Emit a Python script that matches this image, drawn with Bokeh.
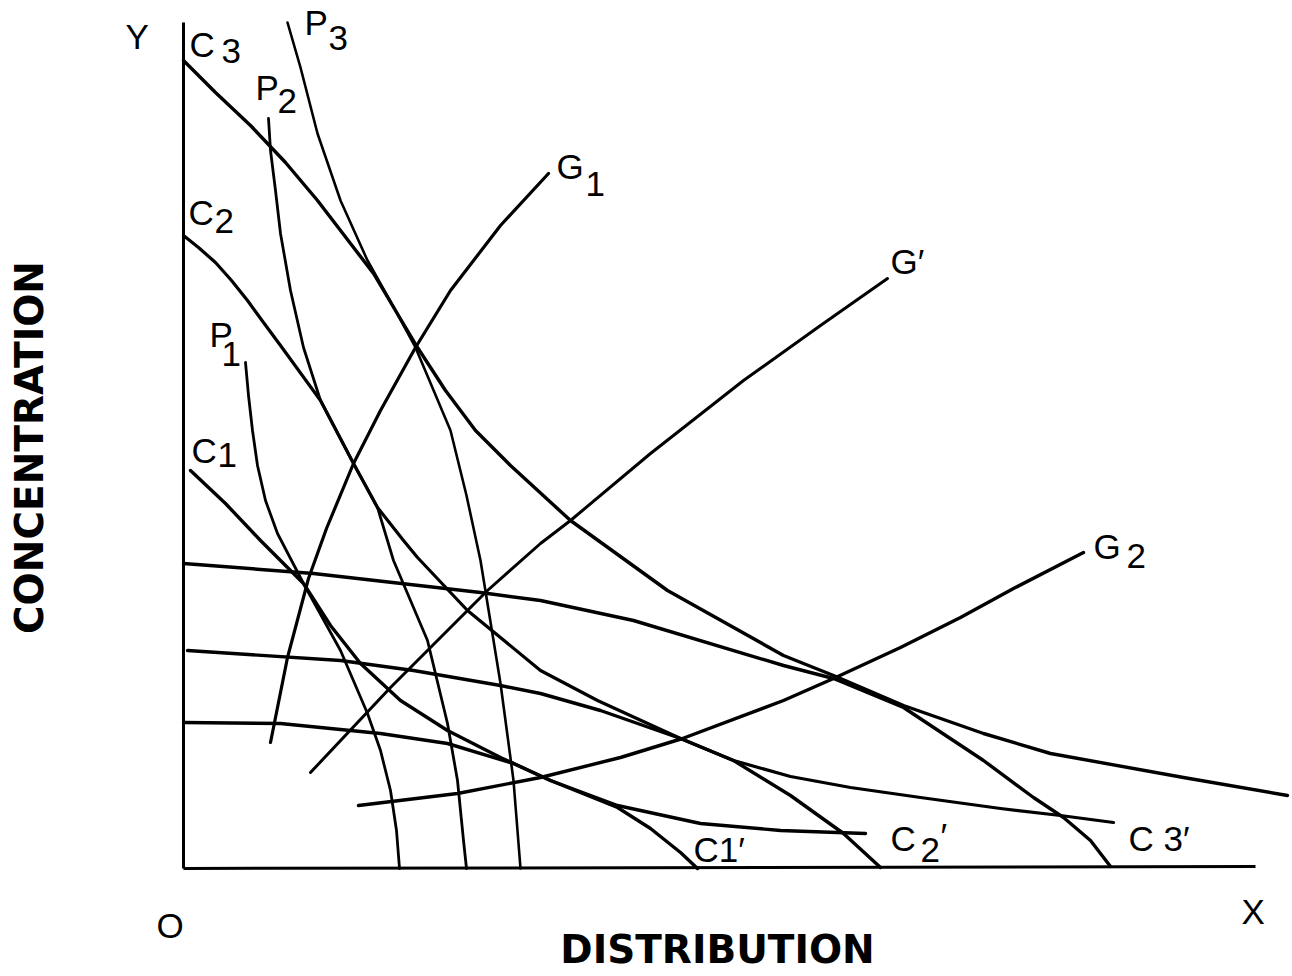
import math
from bokeh.plotting import figure
from bokeh.models import Range1d
from bokeh.core.properties import value
from bokeh.embed import file_html
from bokeh.resources import INLINE

# ---- curves (schematic units: distribution on x, concentration on y) ----
c3_x = [0.0, 3.2, 6.7, 10.2, 13.4, 16.7, 19.0, 21.2, 23.4, 26.2, 29.2, 32.7, 38.7, 48.4, 60.0, 65.0, 72.0, 80.0, 86.7, 100.0, 110.4]
c3_y = [80.8, 77.6, 74.3, 70.6, 66.8, 62.5, 59.5, 55.8, 52.1, 47.8, 43.8, 40.3, 34.8, 27.8, 21.3, 19.3, 16.3, 13.5, 11.5, 9.1, 7.3]

c2_x = [0.0, 1.5, 3.2, 4.8, 6.4, 8.0, 9.7, 13.7, 17.0, 19.4, 22.0, 23.4, 28.4, 35.7, 41.4, 49.7, 55.0, 60.7, 66.7, 73.7, 81.7, 87.7, 93.0]
c2_y = [63.3, 62.1, 60.6, 58.8, 56.8, 54.6, 52.3, 46.8, 40.5, 36.1, 32.8, 31.1, 25.8, 19.8, 16.8, 13.0, 10.8, 9.2, 8.1, 7.1, 6.0, 5.3, 4.6]

c1_x = [0.7, 4.2, 7.7, 12.0, 14.7, 17.7, 21.7, 26.4, 31.7, 36.7, 43.4, 51.7, 59.7, 68.2]
c1_y = [39.8, 36.5, 32.8, 28.5, 24.3, 20.5, 16.8, 13.8, 11.1, 8.8, 6.3, 4.5, 3.8, 3.5]

c3p_x = [0.0, 13.0, 29.7, 35.7, 45.0, 60.0, 65.0, 72.0, 80.0, 85.0, 88.0, 90.7, 92.7]
c3p_y = [30.5, 29.5, 27.6, 26.8, 24.8, 20.3, 19.0, 16.1, 10.8, 7.1, 5.1, 2.8, 0.2]

c2p_x = [0.4, 15.7, 23.0, 31.7, 35.7, 41.7, 49.7, 55.0, 60.7, 66.0, 69.7]
c2p_y = [21.8, 20.8, 19.8, 18.3, 17.5, 15.8, 13.0, 10.8, 7.3, 3.5, 0.1]

c1p_x = [0.0, 9.7, 19.7, 26.4, 33.0, 36.7, 43.4, 46.7, 49.7, 51.4]
c1p_y = [14.6, 14.5, 13.5, 12.5, 10.5, 8.8, 6.1, 4.0, 1.6, 0.0]

p1_x = [6.2, 6.5, 6.9, 7.4, 8.2, 9.4, 12.0, 15.7, 18.4, 19.7, 20.7, 21.3, 21.6]
p1_y = [50.6, 47.3, 43.8, 40.3, 36.8, 33.5, 28.5, 21.8, 15.5, 11.8, 7.8, 3.8, 0.0]

p2_x = [8.5, 8.7, 9.2, 9.7, 10.7, 12.0, 13.7, 17.0, 19.4, 21.0, 24.4, 26.4, 27.4, 28.0, 28.3]
p2_y = [75.0, 71.8, 67.8, 63.5, 57.8, 52.1, 46.8, 40.5, 36.1, 30.8, 22.8, 14.5, 8.8, 2.8, 0.0]

p3_x = [10.4, 11.7, 13.4, 15.7, 18.4, 21.2, 23.2, 26.7, 28.3, 29.7, 31.7, 33.0, 33.7]
p3_y = [84.6, 80.1, 73.5, 66.8, 60.8, 55.8, 52.1, 43.8, 37.3, 30.8, 18.5, 8.8, 0.0]

g1_x = [8.7, 10.4, 12.5, 14.3, 17.0, 19.7, 23.2, 26.7, 31.7, 36.5]
g1_y = [12.6, 21.1, 29.0, 34.0, 40.5, 45.8, 52.1, 57.8, 64.3, 69.5]

gp_x = [12.7, 20.7, 30.4, 35.7, 38.7, 46.7, 56.0, 63.7, 70.4]
gp_y = [9.6, 18.1, 27.8, 32.5, 34.8, 41.5, 48.8, 54.3, 59.0]

g2_x = [17.5, 27.4, 35.7, 43.7, 49.9, 60.0, 65.0, 71.7, 77.7, 83.0, 90.0]
g2_y = [6.3, 7.5, 9.1, 11.1, 13.0, 16.8, 19.0, 22.1, 25.1, 28.0, 31.6]

axis_y_x = [0.0, 0.0]
axis_y_y = [84.6, 0.0]
axis_x_x = [0.0, 107.2]
axis_x_y = [0.0, 0.2]

# ---- labels (left edge, vertical centre) ----
label_text = ["Y", "C", "3", "P", "3", "P", "2", "C", "2", "P", "1", "C", "1",
              "G", "1", "G\u2032", "G", "2", "C1\u2032", "C", "2", "\u2032", "C 3\u2032", "O", "X"]
label_x = [-5.8, 0.6, 3.8, 12.1, 14.5, 7.2, 9.4, 0.5, 3.1, 2.6, 3.8, 0.8, 3.4,
           37.3, 40.2, 70.7, 91.0, 94.3, 51.0, 70.7, 73.7, 75.7, 94.5, -2.7, 105.8]
label_y = [83.2, 82.4, 81.8, 84.6, 83.1, 78.1, 76.8, 65.6, 64.8, 53.4, 51.5, 41.8, 41.4,
           70.2, 68.5, 60.7, 32.2, 31.3, 1.9, 3.0, 1.9, 3.3, 3.0, -5.7, -4.3]

x_title = "DISTRIBUTION"
y_title = "CONCENTRATION"

p = figure(width=1290, height=974, x_range=Range1d(-18.3, 110.7), y_range=Range1d(-10.6, 86.8),
           output_backend="svg", toolbar_location=None, x_axis_type=None, y_axis_type=None,
           min_border=0)
p.grid.visible = False
p.outline_line_color = None
p.background_fill_color = "white"
p.border_fill_color = "white"

# axes
p.line(axis_y_x, axis_y_y, line_color="black", line_width=3)
p.line(axis_x_x, axis_x_y, line_color="black", line_width=3)

curves = [
    (c3_x, c3_y, 3.4), (c2_x, c2_y, 3.2), (c1_x, c1_y, 3.4),
    (c3p_x, c3p_y, 3.4), (c2p_x, c2p_y, 3.4), (c1p_x, c1p_y, 3.4),
    (p1_x, p1_y, 2.8), (p2_x, p2_y, 2.8), (p3_x, p3_y, 2.6),
    (g1_x, g1_y, 3.2), (gp_x, gp_y, 3.0), (g2_x, g2_y, 3.4),
]
for xs, ys, w in curves:
    p.line(xs, ys, line_color="black", line_width=w, line_join="round", line_cap="round")

p.text(x=label_x, y=label_y, text=label_text, text_font=value("Liberation Sans"),
       text_font_size="35px", text_align="left", text_baseline="middle", text_color="black")

p.text(x=[53.4], y=[-8.1], text=[x_title], text_font=value("DejaVu Sans"), text_font_style="bold",
       text_font_size="39px", text_align="center", text_baseline="middle", text_color="black")
p.text(x=[-15.4], y=[42.1], text=[y_title], angle=math.pi / 2, text_font=value("DejaVu Sans"),
       text_font_style="bold", text_font_size="39px", text_align="center", text_baseline="middle",
       text_color="black")

open("out.html", "w").write(file_html(p, INLINE))
